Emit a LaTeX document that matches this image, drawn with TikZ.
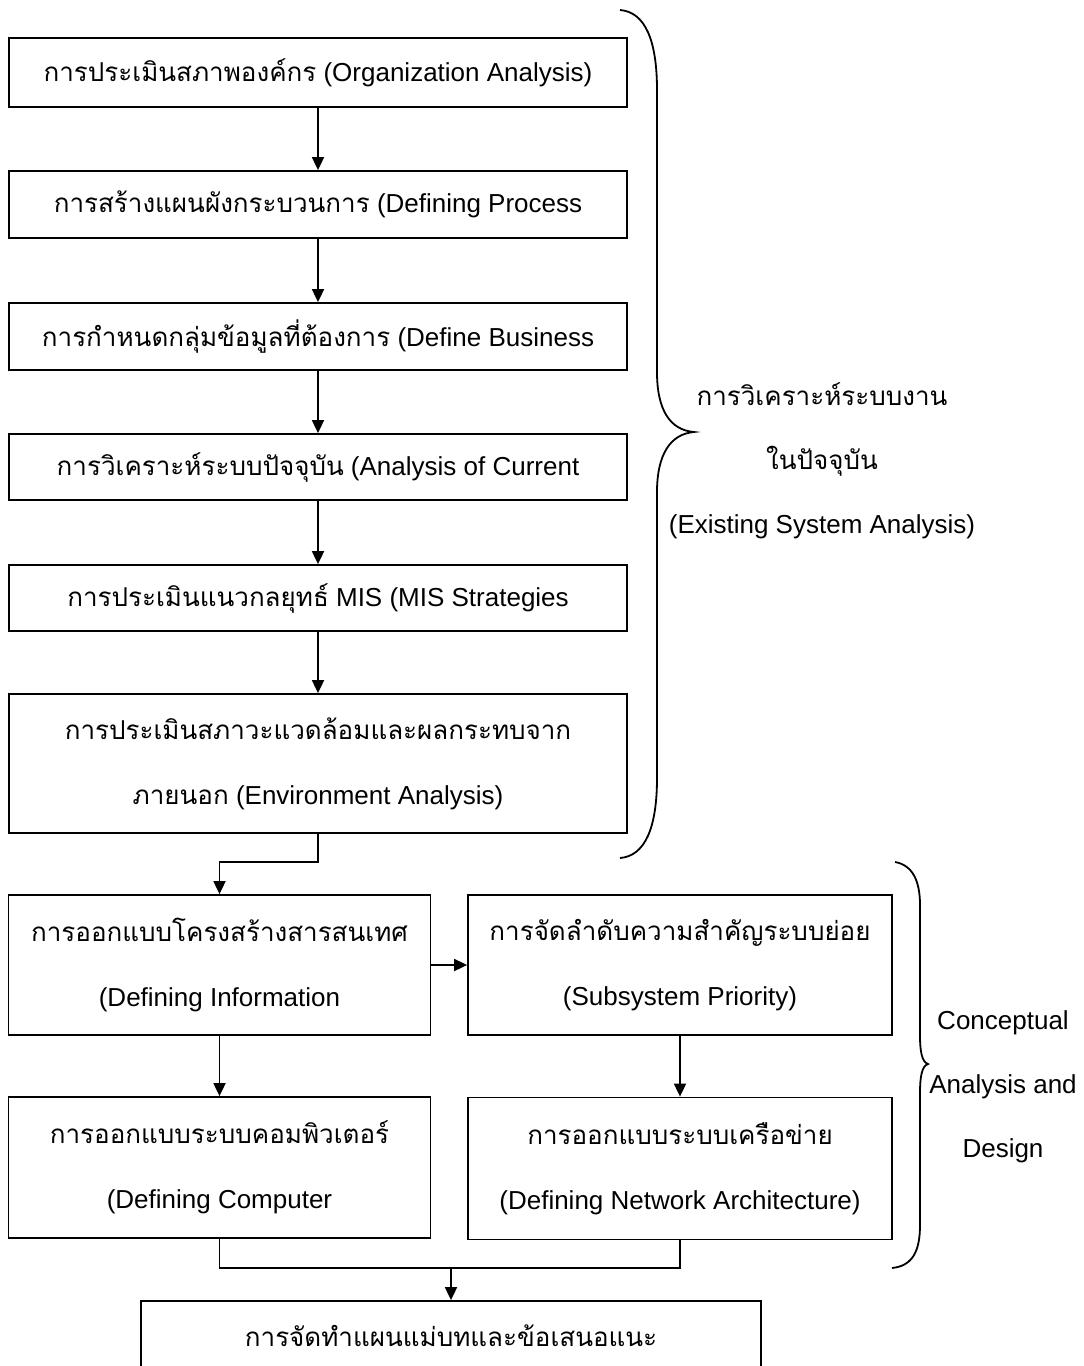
\documentclass[tikz,border=0pt]{standalone}
\usepackage{fontspec}
\setmainfont{Liberation Sans}
\newfontfamily\thaifont[Script=Thai]{Loma}
\usetikzlibrary{arrows.meta}
\newcommand\tha[1]{{\thaifont #1}}
\tikzset{
  box/.style={draw, line width=1.8pt, inner sep=0pt, align=center,
    font=\fontsize{26}{65}\selectfont},
  wide/.style={minimum width=618pt},
  half/.style={minimum width=422pt},
  arr/.style={line width=1.8pt, -{Triangle[length=13pt,width=12pt]}},
  link/.style={line width=1.8pt},
  brace/.style={line width=1.8pt},
  lab/.style={align=center, inner sep=0pt, font=\fontsize{26}{64}\selectfont}
}
\begin{document}
\begin{tikzpicture}[x=1pt,y=-1pt]
\useasboundingbox (0,0) rectangle (1084,1366);
\clip (0,0) rectangle (1084,1366);
\fill[white] (0,0) rectangle (1084,1366);

\node[box,wide,minimum height=69pt] (b1) at (318,72.5) {\tha{การประเมินสภาพองค์กร} (Organization Analysis)};
\node[box,wide,minimum height=67pt] (b2) at (318,204.5) {\tha{การสร้างแผนผังกระบวนการ} (Defining Process};
\node[box,wide,minimum height=67pt] (b3) at (318,336.5) {\tha{การกำหนดกลุ่มข้อมูลที่ต้องการ} (Define Business};
\node[box,wide,minimum height=66pt] (b4) at (318,467) {\tha{การวิเคราะห์ระบบปัจจุบัน} (Analysis of Current};
\node[box,wide,minimum height=66pt] (b5) at (318,598) {\tha{การประเมินแนวกลยุทธ์} MIS (MIS Strategies};
\node[box,wide,minimum height=139pt] (b6) at (318,763.5) {\tha{การประเมินสภาวะแวดล้อมและผลกระทบจาก}\\\tha{ภายนอก} (Environment Analysis)};

\node[box,half,minimum height=140pt] (b7) at (219.5,965) {\tha{การออกแบบโครงสร้างสารสนเทศ}\\(Defining Information};
\node[box,minimum width=424pt,minimum height=140pt] (b8) at (680,965) {\tha{การจัดลำดับความสำคัญระบบย่อย}\\(Subsystem Priority)};
\node[box,half,minimum height=141pt] (b9) at (219.5,1167.5) {\tha{การออกแบบระบบคอมพิวเตอร์}\\(Defining Computer};
\node[box,minimum width=424pt,minimum height=142pt] (b10) at (680,1168.5) {\tha{การออกแบบระบบเครือข่าย}\\(Defining Network Architecture)};
\node[box,minimum width=620pt,minimum height=134pt] (b11) at (451,1368) {\tha{การจัดทำแผนแม่บทและข้อเสนอแนะ}\\\mbox{}};

\draw[arr] (b1) -- (b2);
\draw[arr] (b2) -- (b3);
\draw[arr] (b3) -- (b4);
\draw[arr] (b4) -- (b5);
\draw[arr] (b5) -- (b6);
\coordinate (k1) at (318,862);
\draw[arr] (b6.south) -- (k1) -| (b7.north);
\draw[arr] (b7) -- (b8);
\draw[arr] (b7) -- (b9);
\draw[arr] (b8) -- (b10);
\coordinate (m) at (451,1268);
\draw[link] (b9.south) -- (b9.south |- m) -- (b10.south |- m) -- (b10.south);
\draw[arr] (b11.north |- m) -- (b11.north);

% braces
\draw[brace] (620,10) .. controls (645,12) and (657,40) .. (657,90) -- (657,372)
  .. controls (657,410) and (670,430) .. (694,432)
  .. controls (670,434) and (657,455) .. (657,492) -- (657,778)
  .. controls (657,828) and (645,856) .. (620,858);
\draw[brace] (895,862) .. controls (912,865) and (920,880) .. (920,905) -- (920,1035)
  .. controls (920,1052) and (922,1062) .. (928,1064)
  .. controls (922,1066) and (920,1076) .. (920,1093) -- (920,1225)
  .. controls (920,1252) and (912,1266) .. (892,1268);

\node[lab] (lab1) at (822,461) {\tha{การวิเคราะห์ระบบงาน}\\\tha{ในปัจจุบัน}\\(Existing System Analysis)};
\node[lab] (lab2) at (1003,1087) {Conceptual\\Analysis and\\Design};
\end{tikzpicture}
\end{document}
